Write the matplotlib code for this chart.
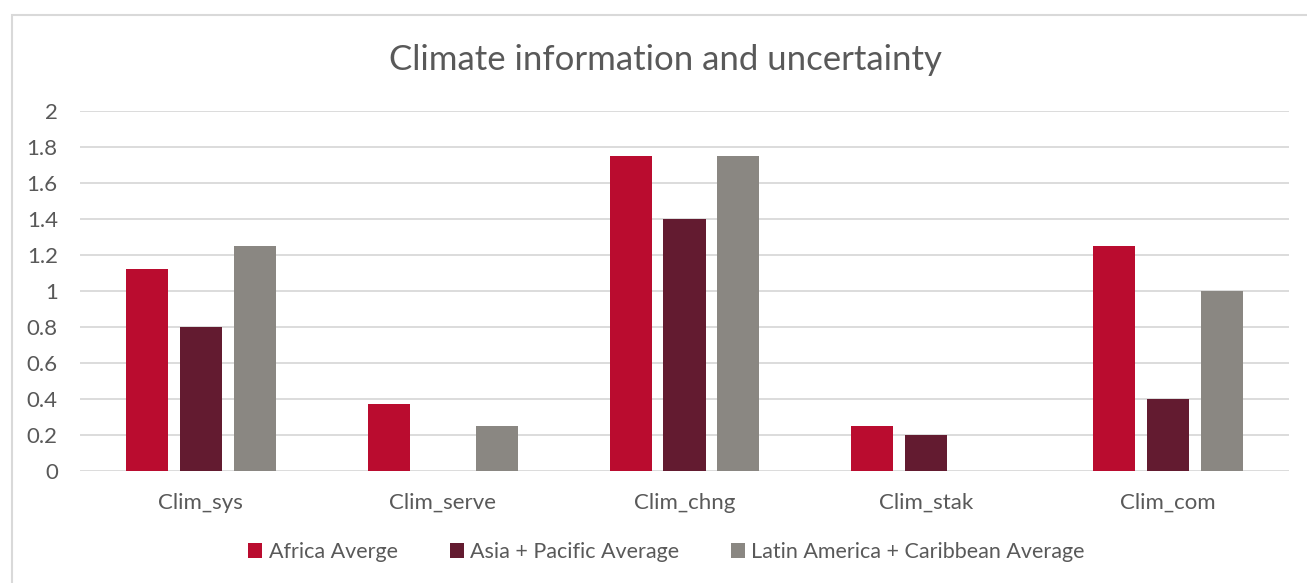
import numpy as np
import matplotlib.pyplot as plt
from matplotlib.patches import Rectangle

# Average scores per climate item, by region
categories = ["Clim_sys", "Clim_serve", "Clim_chng", "Clim_stak", "Clim_com"]
africa = [1.125, 0.375, 1.75, 0.25, 1.25]
asia_pacific = [0.8, 0.0, 1.4, 0.2, 0.4]
latin_america = [1.25, 0.25, 1.75, 0.0, 1.0]

series_names = ["Africa Averge", "Asia + Pacific Average", "Latin America + Caribbean Average"]
colors = ["#BA0C2F", "#631B30", "#8A8782"]
text_color = "#595959"
grid_color = "#D9D9D9"

plt.rcParams["font.family"] = ["Lato", "DejaVu Sans"]

fig = plt.figure(figsize=(13.07, 5.83), dpi=100)
ax = fig.add_axes([0.0612, 0.1921, 0.925, 0.6175])

x = np.arange(len(categories))
width = 0.174
step = 0.223
for i, (vals, name, col) in enumerate(zip([africa, asia_pacific, latin_america], series_names, colors)):
    ax.bar(x + (i - 1) * step, vals, width, color=col, label=name, zorder=3)

ax.set_xlim(-0.5, len(categories) - 0.5)
ax.set_ylim(0, 2)
ax.set_yticks(np.arange(0, 2.01, 0.2))
ax.set_yticklabels(["0", "0.2", "0.4", "0.6", "0.8", "1", "1.2", "1.4", "1.6", "1.8", "2"])
ax.set_xticks(x)
ax.set_xticklabels(categories)
ax.tick_params(axis="both", length=0, labelsize=16, colors=text_color)
ax.tick_params(axis="x", pad=15.5)
ax.tick_params(axis="y", pad=16)
ax.grid(axis="y", color=grid_color, linewidth=1.3, zorder=0)
for s in ax.spines.values():
    s.set_visible(False)

fig.text(0.509, 0.897, "Climate information and uncertainty", ha="center", va="center",
         fontsize=25, color=text_color)

leg = fig.legend(loc="center", bbox_to_anchor=(0.51, 0.053), ncol=3, frameon=False,
                 fontsize=15.5, handlelength=0.65, handleheight=0.65, handletextpad=0.3,
                 columnspacing=2.4, labelcolor=text_color)

# chart frame
fig.patches.append(Rectangle((12 / 1307, -0.1), 1.2, (583 - 15) / 583 + 0.1,
                             transform=fig.transFigure, fill=False,
                             edgecolor=grid_color, linewidth=1.5))

fig.savefig("out.png", dpi=100)
